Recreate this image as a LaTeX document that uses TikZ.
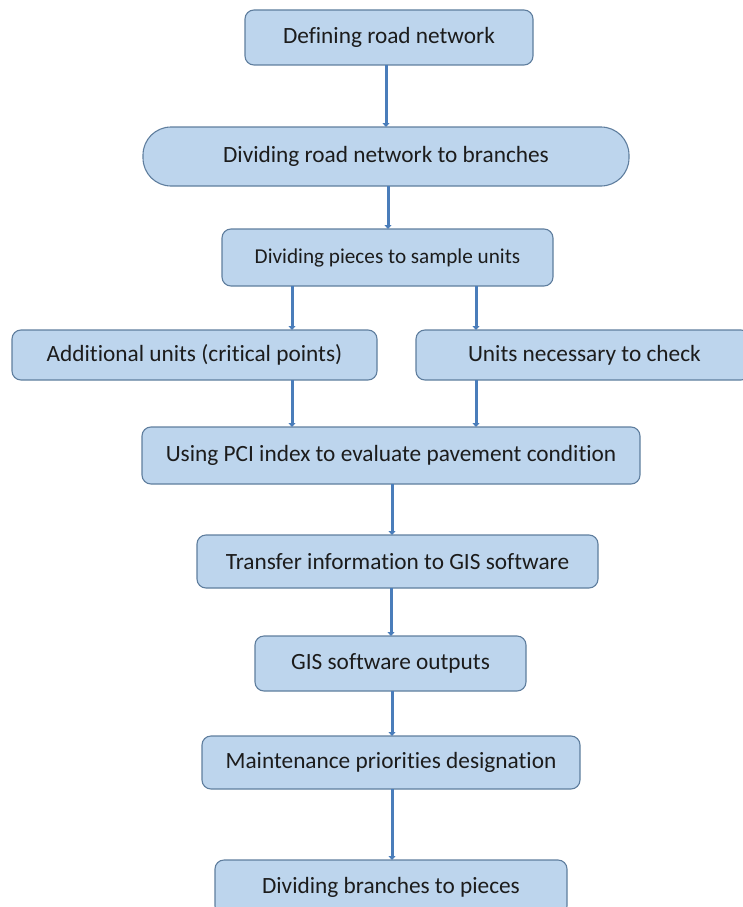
\documentclass[tikz,border=0pt]{standalone}
\usepackage{fontspec}
\setmainfont{Carlito}[Ligatures={NoCommon}]
\usetikzlibrary{arrows.meta}
\definecolor{boxfill}{HTML}{BDD5ED}
\definecolor{boxline}{HTML}{5F7E9E}
\definecolor{arrcol}{HTML}{4A7DBA}
\definecolor{txt}{HTML}{1C1C1C}
\tikzset{
  box/.style={draw=boxline, line width=1.1pt, fill=boxfill, rounded corners=9pt,
    inner sep=0pt, outer sep=0pt, text=txt,
    font=\fontsize{23.3}{26}\selectfont},
  smalltext/.style={font=\fontsize{21.2}{24}\selectfont},
  arr/.style={draw=arrcol, line width=3pt, -{Triangle[width=7pt,length=4pt]}}
}
\begin{document}
\begin{tikzpicture}[x=1pt,y=-1pt]
\useasboundingbox (0,0) rectangle (743,907);
\node[box, minimum width=288pt, minimum height=55pt] (b1) at (389,37.5) {Defining road network};
\node[box, minimum width=486pt, minimum height=59pt, rounded corners=28pt] (b2) at (386,156.5) {Dividing road network to branches};
\node[box, smalltext, minimum width=331pt, minimum height=57pt] (b3) at (387.5,257.5) {Dividing pieces to sample units};
\node[box, minimum width=365pt, minimum height=50pt] (b4) at (194.5,355) {Additional units (critical points)};
\node[box, minimum width=334pt, minimum height=50pt] (b5) at (583,355) {\makebox[334pt][l]{\hspace*{52pt}Units necessary to check}};
\node[box, minimum width=498pt, minimum height=57pt] (b6) at (391,455.5) {Using PCI index to evaluate pavement condition};
\node[box, minimum width=401pt, minimum height=53pt] (b7) at (397.5,561.5) {Transfer information to GIS software};
\node[box, minimum width=271pt, minimum height=55pt] (b8) at (390.5,663.5) {GIS software outputs};
\node[box, minimum width=378pt, minimum height=53pt] (b9) at (391,762.5) {Maintenance priorities designation};
\node[box, minimum width=352pt, minimum height=55pt] (b10) at (391,887.5) {Dividing branches to pieces};
\draw[arr] (b1.south -| 386,0) -- (b2.north -| 386,0);
\draw[arr] (b2.south -| 388,0) -- (b3.north -| 388,0);
\draw[arr] (b3.south -| 292,0) -- (b4.north -| 292,0);
\draw[arr] (b3.south -| 476,0) -- (b5.north -| 476,0);
\draw[arr] (b4.south -| 292,0) -- (b6.north -| 292,0);
\draw[arr] (b5.south -| 476,0) -- (b6.north -| 476,0);
\draw[arr] (b6.south -| 392,0) -- (b7.north -| 392,0);
\draw[arr] (b7.south -| 391,0) -- (b8.north -| 391,0);
\draw[arr] (b8.south -| 392,0) -- (b9.north -| 392,0);
\draw[arr] (b9.south -| 392,0) -- (b10.north -| 392,0);
\end{tikzpicture}
\end{document}
